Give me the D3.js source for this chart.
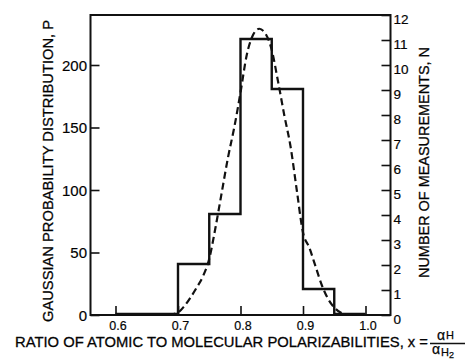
<!DOCTYPE html>
<html>
<head>
<meta charset="utf-8">
<script src="https://cdn.jsdelivr.net/npm/d3@7"></script>
<style>
  html, body { margin: 0; padding: 0; background: #fff; }
  svg { display: block; }
  text { font-family: "Liberation Sans", Arial, Helvetica, sans-serif; fill: #000; }
</style>
</head>
<body>
<svg id="chart" width="467" height="361"></svg>
<script>
// ---- data ----
const binStarts = [0.60, 0.65, 0.70, 0.75, 0.80, 0.85, 0.90, 0.95];
const binCounts = [0, 0, 2, 4, 11, 9, 1, 0];
const binWidth = 0.05;

const gaussX = [0.685, 0.70, 0.71, 0.72, 0.73, 0.74, 0.75, 0.76, 0.77, 0.78, 0.79, 0.80, 0.81, 0.82, 0.83, 0.84, 0.85, 0.86, 0.87, 0.88, 0.89, 0.90, 0.91, 0.92, 0.93, 0.94, 0.95, 0.96, 0.97, 0.98, 1.00];
const gaussP = [0, 2, 7, 14, 22, 31, 45, 70, 98, 126, 150, 178, 208, 224, 229, 225, 212, 187, 160, 135, 100, 66, 54, 39, 24, 13, 6, 2, 0.5, 0, 0];

const xTicks = [0.6, 0.7, 0.8, 0.9, 1.0];
const pTicks = [0, 50, 100, 150, 200];
const nTicks = [0, 1, 2, 3, 4, 5, 6, 7, 8, 9, 10, 11, 12];

// ---- layout ----
const L = 90.5, R = 390.5, T = 15, B = 315;
const svg = d3.select("#chart");

const x = d3.scaleLinear().domain([0.56, 1.04]).range([L, R]);
const yP = d3.scaleLinear().domain([0, 240]).range([B, T]);
const yN = d3.scaleLinear().domain([0, 12]).range([B, T]);

const ink = "#111";
const numFont = "'DejaVu Sans', Verdana, sans-serif";

// frame
svg.append("rect")
  .attr("x", L).attr("y", T).attr("width", R - L).attr("height", B - T)
  .attr("fill", "none").attr("stroke", ink).attr("stroke-width", 2);

// left axis (P)
const leftAxis = d3.axisLeft(yP).tickValues(pTicks).tickSize(-9).tickPadding(3.5).tickFormat(d3.format("d"));
const gl = svg.append("g").attr("transform", `translate(${L},0)`).call(leftAxis);
// right axis (N)
const rightAxis = d3.axisRight(yN).tickValues(nTicks).tickSize(-9).tickPadding(3).tickFormat(d3.format("d"));
const gr = svg.append("g").attr("transform", `translate(${R},0)`).call(rightAxis);
// bottom axis
const bottomAxis = d3.axisBottom(x).tickValues(xTicks).tickSize(-9).tickPadding(14.5).tickFormat(d3.format(".1f"));
const gb = svg.append("g").attr("transform", `translate(0,${B})`).call(bottomAxis);

[gl, gr, gb].forEach(g => {
  g.select(".domain").remove();
  g.selectAll(".tick line").attr("stroke", ink).attr("stroke-width", 1.6);
  g.selectAll(".tick text").attr("fill", ink).attr("font-family", numFont)
    .attr("stroke", ink).attr("stroke-width", 0.2);
});
gl.selectAll(".tick text").attr("font-size", 15).attr("dy", "0.36em");
gr.selectAll(".tick text").attr("font-size", 13.5).attr("dy", "0.66em");
gb.selectAll(".tick text").attr("font-size", 12.5).attr("dx", 2).attr("dy", "0");

// histogram (step line)
const histPts = binStarts.map((s, i) => [s, binCounts[i]]);
histPts.push([binStarts[binStarts.length - 1] + binWidth, binCounts[binCounts.length - 1]]);
const stepLine = d3.line().x(d => x(d[0])).y(d => yN(d[1]) - 1).curve(d3.curveStepAfter);
svg.append("path")
  .attr("d", stepLine(histPts))
  .attr("fill", "none").attr("stroke", ink).attr("stroke-width", 2.4)
  .attr("stroke-linejoin", "miter");

// gaussian (dashed)
const gLine = d3.line().x((d, i) => x(gaussX[i])).y((d) => yP(d)).curve(d3.curveMonotoneX);
svg.append("path")
  .attr("d", gLine(gaussP))
  .attr("fill", "none").attr("stroke", ink).attr("stroke-width", 2.2)
  .attr("stroke-dasharray", "7,4");

// titles
svg.append("text")
  .attr("transform", `translate(53,171) rotate(-90)`)
  .attr("text-anchor", "middle").attr("font-size", 15.5)
  .attr("stroke", ink).attr("stroke-width", 0.3)
  .attr("textLength", 302).attr("lengthAdjust", "spacingAndGlyphs")
  .text("GAUSSIAN PROBABILITY DISTRIBUTION, P");

svg.append("text")
  .attr("transform", `translate(428.5,162.5) rotate(-90)`)
  .attr("text-anchor", "middle").attr("font-size", 15)
  .attr("stroke", ink).attr("stroke-width", 0.3)
  .attr("textLength", 231).attr("lengthAdjust", "spacingAndGlyphs")
  .text("NUMBER OF MEASUREMENTS, N");

svg.append("text")
  .attr("x", 15).attr("y", 346.5)
  .attr("font-size", 14.5)
  .attr("stroke", ink).attr("stroke-width", 0.3)
  .attr("textLength", 413).attr("lengthAdjust", "spacingAndGlyphs")
  .text("RATIO OF ATOMIC TO MOLECULAR POLARIZABILITIES, x =");

// fraction α_H / α_H2
const frac = svg.append("g");
const num = frac.append("text").attr("x", 437).attr("y", 339.5).attr("font-size", 14)
  .attr("stroke", ink).attr("stroke-width", 0.25);
num.append("tspan").text("α");
num.append("tspan").attr("font-size", 11).attr("dx", 1).attr("dy", -0.5).text("H");
frac.append("line").attr("x1", 430).attr("x2", 465).attr("y1", 343.5).attr("y2", 343.5)
  .attr("stroke", ink).attr("stroke-width", 1.3);
const den = frac.append("text").attr("x", 432).attr("y", 354).attr("font-size", 14)
  .attr("stroke", ink).attr("stroke-width", 0.25);
den.append("tspan").text("α");
den.append("tspan").attr("font-size", 11).attr("dx", 1).attr("dy", 2).text("H");
den.append("tspan").attr("font-size", 9).attr("dy", 1.5).text("2");
</script>
</body>
</html>
